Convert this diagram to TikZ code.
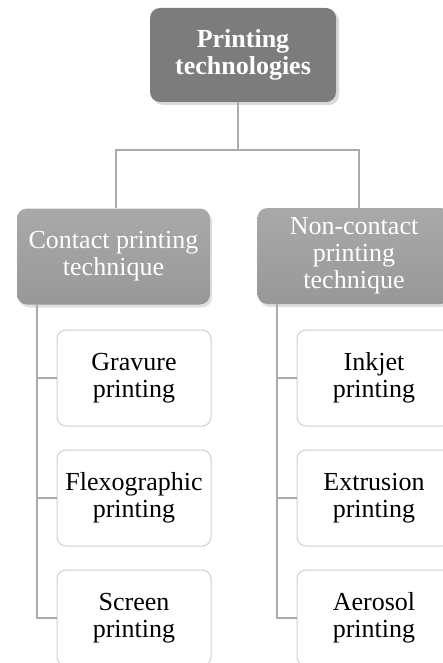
\documentclass[tikz,border=0pt]{standalone}
\usepackage{fontspec}
\setmainfont{Liberation Serif}
\usetikzlibrary{positioning,shadows}
\definecolor{headgray}{HTML}{7C7C7C}
\definecolor{midtop}{HTML}{A9A9A9}
\definecolor{midbot}{HTML}{989898}
\definecolor{linegray}{HTML}{ABABAB}
\definecolor{boxline}{HTML}{D0D0D0}
\begin{document}
\begin{tikzpicture}[x=1pt, y=-1pt, node distance={120pt},
    main/.style = {fill=headgray, text=white, font=\fontsize{26}{27}\selectfont\bfseries, rounded corners=10pt, minimum width=186pt, minimum height=94pt, inner sep=4pt, align=center, drop shadow={opacity=0.3, shadow xshift=3pt, shadow yshift=-3pt}},
    kind/.style = {top color=midtop, bottom color=midbot, text=white, font=\fontsize{26}{27}\selectfont, rounded corners=10pt, minimum width=193pt, minimum height=96pt, inner sep=4pt, align=center, drop shadow={opacity=0.25, shadow xshift=2pt, shadow yshift=-3pt}},
    leaf/.style = {draw=boxline, line width=1pt, fill=white, font=\fontsize{26}{27}\selectfont, rounded corners=9pt, minimum width=154pt, minimum height=96pt, inner sep=3pt, align=center},
    link/.style = {draw=linegray, line width=2pt}]
    \useasboundingbox (0,0) rectangle (443,663);
    \clip (0,0) rectangle (443,663);
    \node[main] (1) at (243,55) {Printing\\technologies};
    \node[kind] (2) at (113.5,256.5) {Contact printing\\technique};
    \node[kind] (3) at (354,256) {Non-contact\\printing\\technique};
    %contact
    \node[leaf] (4) at (134,378) {Gravure\\printing};
    \node[leaf] (5) [below of=4] {Flexographic\\printing};
    \node[leaf] (6) [below of=5] {Screen\\printing};
    %non-contact
    \node[leaf] (7) at (374,378) {Inkjet\\printing};
    \node[leaf] (8) [below of=7] {Extrusion\\printing};
    \node[leaf] (9) [below of=8] {Aerosol\\printing};

    %links
    \coordinate (fork) at (238,150);
    \draw[link] ([xshift=-5pt]1.south) -- (fork);
    \draw[link] ([xshift=2.5pt]2.north) |- (fork) -| ([xshift=5pt]3.north);
    \draw[link] ([xshift=20pt]2.south west) |- (4.west);
    \draw[link] ([xshift=20pt]2.south west) |- (5.west);
    \draw[link] ([xshift=20pt]2.south west) |- (6.west);
    \draw[link] ([xshift=20pt]3.south west) |- (7.west);
    \draw[link] ([xshift=20pt]3.south west) |- (8.west);
    \draw[link] ([xshift=20pt]3.south west) |- (9.west);
\end{tikzpicture}
\end{document}
